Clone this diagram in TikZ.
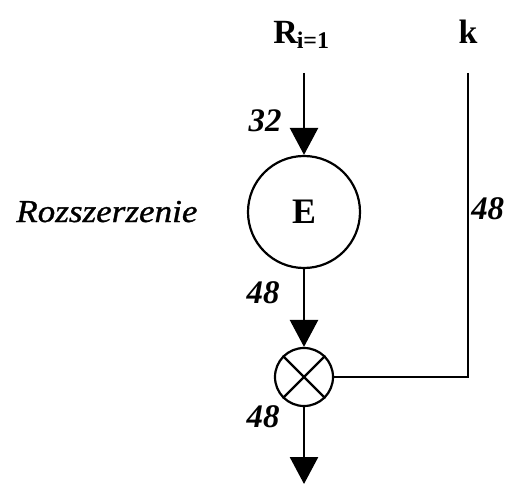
\documentclass[tikz,border=0pt]{standalone}
\usepackage{fontspec}
\setmainfont{Liberation Serif}
\usetikzlibrary{arrows.meta}
\begin{document}
\begin{tikzpicture}[x=1bp,y=-1bp,line width=2.6bp,
  flow/.style={-{Triangle[width=28bp,length=27bp]}},
  lbl/.style={font=\fontsize{33}{35}\selectfont\bfseries\itshape},
  bigbold/.style={font=\fontsize{34}{36}\selectfont\bfseries}]
\useasboundingbox (0,0) rectangle (506,484);
\node[bigbold,anchor=base west,inner sep=0pt] (R) at (272,44) {R\kern-1bp\raisebox{-5bp}{\fontsize{24}{25}\selectfont i=1}};
\node[bigbold,anchor=base,inner sep=0pt] (k) at (468,44) {k};
\coordinate (rtop) at (304,73);
\coordinate (ktop) at (468,73);
\node[draw,circle,minimum size=112bp,inner sep=0pt,line width=2.2bp,font=\fontsize{36}{38}\selectfont\bfseries] (E) at (304,212) {E};
\node[draw,circle,minimum size=58bp,inner sep=0pt,line width=2.2bp] (X) at (304,377) {};
\draw[line width=2.2bp] (X.north west) -- (X.south east) (X.north east) -- (X.south west);
\coordinate (out) at (304,484);
\coordinate (kc) at (468,377);
\draw[flow] (rtop) -- (E.north);
\draw[flow] (E.south) -- (X.north);
\draw[flow] (X.south) -- (out);
\draw (ktop) -- (kc) -- (X.east);
\node[lbl,anchor=base,inner sep=0pt] (n32) at (265,132) {32};
\node[lbl,anchor=base,inner sep=0pt] (n48a) at (263,303) {48};
\node[lbl,anchor=base,inner sep=0pt] (n48b) at (263,427) {48};
\node[lbl,anchor=base west,inner sep=0pt] (n48c) at (470,219) {48};
\node[font=\fontsize{32}{34}\selectfont\itshape\addfontfeature{FakeStretch=1.1,FakeBold=1},anchor=base west,inner sep=0pt] (roz) at (15,222) {Rozszerzenie};
\end{tikzpicture}
\end{document}
